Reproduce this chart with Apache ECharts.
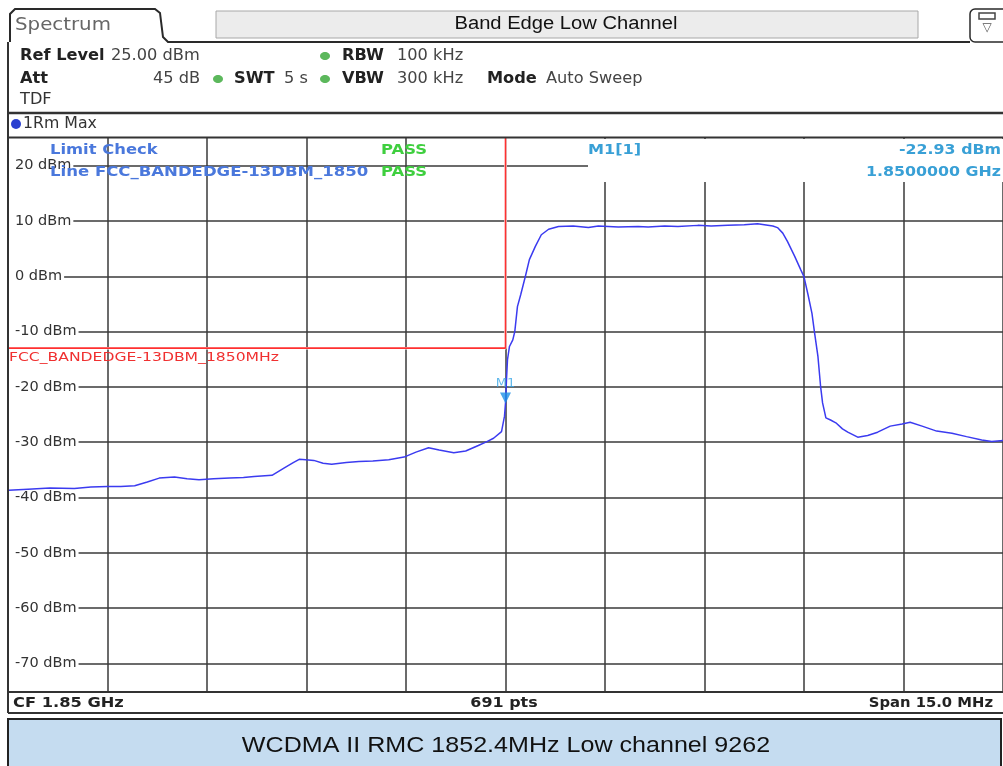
<!DOCTYPE html>
<html>
<head>
<meta charset="utf-8">
<script src="https://cdn.jsdelivr.net/npm/echarts@6/dist/echarts.min.js"></script>
<style>
html,body{margin:0;padding:0;background:#fff;}
#c{width:1003px;height:766px;}
</style>
</head>
<body>
<div id="c"></div>
<script>
// ---- data ----
var centerMHz = 1850;
var spanMHz = 15;
var freqMHz = [
  1842.51,1842.80,1843.13,1843.50,1843.75,1844.00,1844.20,1844.41,1844.60,1844.78,
  1845.01,1845.20,1845.38,1845.60,1845.84,1846.05,1846.21,1846.48,1846.66,1846.80,
  1846.89,1846.99,1847.11,1847.25,1847.38,1847.60,1847.79,1848.00,1848.24,1848.47,
  1848.65,1848.84,1849.00,1849.22,1849.40,1849.59,1849.72,1849.82,1849.94,1849.985,
  1850.00,1850.015,1850.03,1850.06,1850.11,1850.14,1850.18,1850.23,1850.30,1850.36,
  1850.45,1850.54,1850.65,1850.80,1851.02,1851.25,1851.40,1851.70,1852.00,1852.15,
  1852.40,1852.60,1852.90,1853.10,1853.35,1853.60,1853.80,1854.03,1854.10,1854.18,
  1854.25,1854.36,1854.45,1854.50,1854.56,1854.62,1854.66,1854.71,1854.75,1854.78,
  1854.83,1854.90,1854.98,1855.08,1855.16,1855.31,1855.46,1855.61,1855.80,1855.98,
  1856.10,1856.28,1856.50,1856.73,1856.95,1857.18,1857.33,1857.50
];
var levelDbm = [
  -38.7,-38.5,-38.3,-38.4,-38.1,-38.0,-38.0,-37.9,-37.2,-36.5,
  -36.3,-36.6,-36.8,-36.6,-36.5,-36.4,-36.2,-36.0,-34.7,-33.7,
  -33.1,-33.2,-33.3,-33.8,-34.0,-33.7,-33.5,-33.4,-33.2,-32.7,
  -31.8,-31.0,-31.4,-31.9,-31.6,-30.6,-29.9,-29.3,-28.1,-25.3,
  -22.93,-18.7,-15.1,-12.7,-11.5,-10.0,-5.5,-3.3,0.0,3.0,
  5.4,7.5,8.5,9.0,9.1,8.8,9.1,8.9,9.0,8.9,
  9.1,9.0,9.2,9.1,9.2,9.3,9.5,9.1,8.8,7.8,
  6.3,3.6,1.2,-0.1,-3.3,-6.7,-10.3,-14.5,-19.9,-22.9,
  -25.6,-26.0,-26.5,-27.6,-28.2,-29.1,-28.8,-28.2,-27.1,-26.7,
  -26.4,-27.1,-28.0,-28.4,-29.0,-29.6,-29.9,-29.7
];
var limitFreqMHz = [1842.5, 1850.0, 1850.0];
var limitDbm = [-13, -13, 25];
var markerFreqMHz = 1850.0;
var markerDbm = -22.93;
var refLevel = 25;
var bottomLevel = -75;
var yTickLabels = ['20 dBm','10 dBm','0 dBm','-10 dBm','-20 dBm','-30 dBm','-40 dBm','-50 dBm','-60 dBm','-70 dBm'];

// ---- build ----
var trace = freqMHz.map(function(f,i){return [f-centerMHz, levelDbm[i]];});
var limit = limitFreqMHz.map(function(f,i){return [f-centerMHz, limitDbm[i]];});

var FONT = 'DejaVu Sans';
function txt(x,y,s,o){
  o = o||{};
  return {type:'text', x:x, y:y, z:o.z||20, scaleX:o.sx||1,
    style:{text:s, fill:o.color||'#222', font:(o.bold?'bold ':'')+(o.size||14)+'px "'+(o.family||FONT)+'"',
      textAlign:o.align||'left', textVerticalAlign:'middle'}};
}
function line(x1,y1,x2,y2,c,w){
  return {type:'line', z:15, shape:{x1:x1,y1:y1,x2:x2,y2:y2}, style:{stroke:c||'#2a2a2a', lineWidth:w||2}};
}
var green = '#5cb85c';
var mk = '#39a0d6';
var lc = '#4a78dc';
var graphics = [
  // header tab
  {type:'polyline', z:15, shape:{points:[[10,42],[10,14],[15,9],[155,9],[160,13],[163,37],[168,42],[970,42]]}, style:{stroke:'#2a2a2a', lineWidth:2, fill:null}},
  {type:'rect', z:14, shape:{x:216,y:11,width:702,height:27}, style:{fill:'#ececec', stroke:'#a8a8a8', lineWidth:1}},
  {type:'rect', z:14, shape:{x:970,y:9,width:40,height:33,r:5}, style:{fill:'#fff', stroke:'#2a2a2a', lineWidth:1.5}},
  {type:'rect', z:16, shape:{x:979,y:13,width:16,height:6}, style:{fill:'#fff', stroke:'#444', lineWidth:1.5}},
  txt(987,28,'▽',{size:12,align:'center',color:'#555'}),
  txt(15,25,'Spectrum',{size:18,color:'#666',sx:1.1}),
  txt(566,24,'Band Edge Low Channel',{size:18,family:'Liberation Sans',align:'center',color:'#111',sx:1.12}),
  // settings
  txt(20,56,'Ref Level',{bold:true,size:15,sx:1.08}),
  txt(111,56,'25.00 dBm',{color:'#444',size:15,sx:1.08}),
  {type:'ellipse', z:16, shape:{cx:325,cy:56,rx:5,ry:4}, style:{fill:green}},
  txt(342,56,'RBW',{bold:true,size:15,sx:1.08}),
  txt(397,56,'100 kHz',{color:'#444',size:15,sx:1.08}),
  txt(20,79,'Att',{bold:true,size:15,sx:1.08}),
  txt(153,79,'45 dB',{color:'#444',size:15,sx:1.08}),
  {type:'ellipse', z:16, shape:{cx:218,cy:79,rx:5,ry:4}, style:{fill:green}},
  txt(234,79,'SWT',{bold:true,size:15,sx:1.08}),
  txt(284,79,'5 s',{color:'#444',size:15,sx:1.08}),
  {type:'ellipse', z:16, shape:{cx:325,cy:79,rx:5,ry:4}, style:{fill:green}},
  txt(342,79,'VBW',{bold:true,size:15,sx:1.08}),
  txt(397,79,'300 kHz',{color:'#444',size:15,sx:1.08}),
  txt(487,79,'Mode',{bold:true,size:15,sx:1.08}),
  txt(546,79,'Auto Sweep',{color:'#444',size:15,sx:1.08}),
  txt(20,100,'TDF',{color:'#333',size:15,sx:1.08}),
  line(8,113,1003,113,'#333',2.5),
  {type:'circle', z:16, shape:{cx:16,cy:124,r:5}, style:{fill:'#2a3fd0'}},
  txt(23,124,'1Rm Max',{color:'#333',size:15,sx:1.05}),
  // plot frame
  line(8,137.5,1003,137.5,'#333',2),
  line(8,42,8,713,'#333',2),
  line(8,692,1003,692,'#333',2),
  line(8,713,1003,713,'#333',2),
  // white box for marker info area
  {type:'rect', z:5, shape:{x:588,y:139,width:420,height:43}, style:{fill:'#fff'}},
  // limit check / marker text
  txt(50,150,'Limit Check',{bold:true,color:lc,sx:1.17}),
  txt(381,150,'PASS',{bold:true,color:'#3fcf3f',sx:1.17}),
  txt(50,172,'Line FCC_BANDEDGE-13DBM_1850',{bold:true,color:lc,sx:1.18}),
  txt(381,172,'PASS',{bold:true,color:'#3fcf3f',sx:1.17}),
  txt(588,150,'M1[1]',{bold:true,color:mk,sx:1.15}),
  txt(1001,150,'-22.93 dBm',{bold:true,color:mk,align:'right',sx:1.13}),
  txt(1001,172,'1.8500000 GHz',{bold:true,color:mk,align:'right',sx:1.13}),
  txt(9,358,'FCC_BANDEDGE-13DBM_1850MHz',{color:'#f03030',size:13,sx:1.2}),
  // bottom bar
  txt(13,703,'CF 1.85 GHz',{bold:true,color:'#222',size:14.5,sx:1.12}),
  txt(504,703,'691 pts',{bold:true,color:'#222',size:14.5,align:'center',sx:1.1}),
  txt(993,703,'Span 15.0 MHz',{bold:true,color:'#222',size:14.5,align:'right',sx:1.02}),
  // caption
  {type:'rect', z:14, shape:{x:8,y:719,width:993,height:48}, style:{fill:'#c5dcf0', stroke:'#222', lineWidth:2}},
  txt(506,746,'WCDMA II RMC 1852.4MHz Low channel 9262',{size:22,family:'Liberation Sans',align:'center',color:'#111',sx:1.14})
];

var chart = echarts.init(document.getElementById('c'), null, {renderer:'canvas'});
chart.setOption({
  backgroundColor:'#fff',
  animation:false,
  grid:{left:8, top:138, width:997.5, height:553, containLabel:false},
  xAxis:{type:'value', min:-spanMHz/2, max:spanMHz/2, interval:1.5,
    axisLine:{show:false}, axisTick:{show:false}, axisLabel:{show:false},
    splitLine:{show:true, lineStyle:{color:'#3a3a3a', width:1.5}}},
  yAxis:{type:'value', min:bottomLevel, max:refLevel, interval:5,
    axisLine:{show:false}, axisTick:{show:false},
    axisLabel:{inside:true, margin:1, color:'#333', fontFamily:FONT, fontSize:14.5,
      backgroundColor:'#fff', padding:[1,2,1,6],
      formatter:function(v){ if (v%10!==0 || v>20) return ''; return yTickLabels[(20-v)/10]; }},
    splitLine:{show:true, lineStyle:{color:['rgba(0,0,0,0)','#3a3a3a'], width:1.5}}},
  graphic:graphics,
  series:[
    {type:'line', name:'limitBg', data:limit, showSymbol:false, z:5, silent:true,
      lineStyle:{color:'#ffffff', width:2.5}},
    {type:'line', name:'limit', data:limit, showSymbol:false, z:6,
      lineStyle:{color:'#ff3030', width:1.6}},
    {type:'line', name:'trace', data:trace, showSymbol:false, z:8,
      lineStyle:{color:'#3b3bf0', width:1.5}},
    {type:'scatter', name:'M1', data:[[markerFreqMHz-centerMHz, markerDbm]], z:9,
      symbol:'triangle', symbolRotate:180, symbolSize:[11,11], symbolOffset:[0,-5],
      itemStyle:{color:'#1e90e6'},
      label:{show:true, formatter:'M1', position:'top', distance:2, color:'#3aa6e6', fontFamily:FONT, fontSize:13}}
  ]
});
</script>
</body>
</html>
